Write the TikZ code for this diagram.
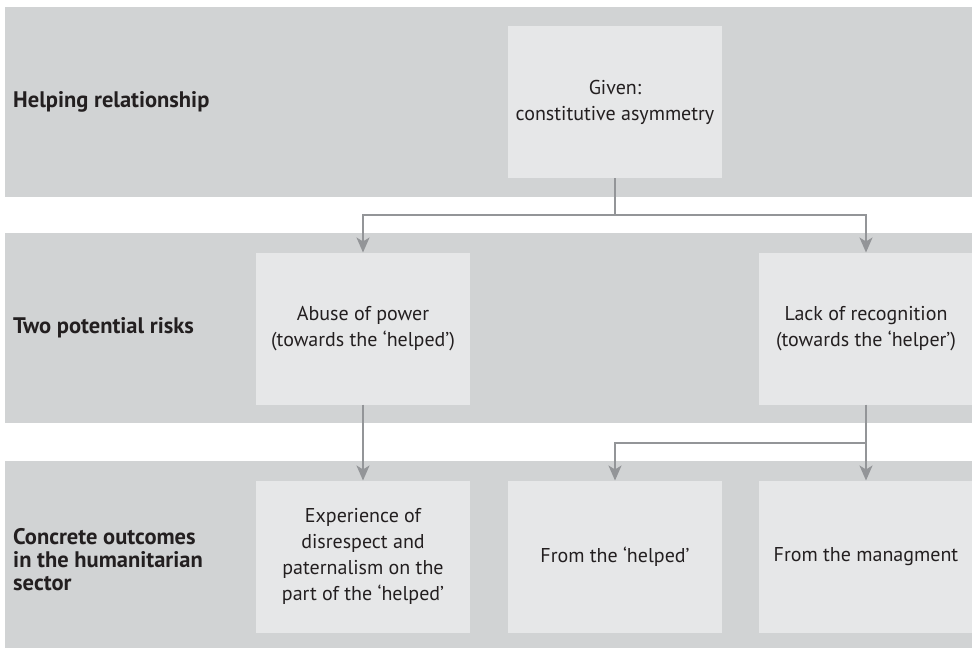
\documentclass[tikz,border=0pt]{standalone}
\usepackage{fontspec}
\setmainfont{PT Sans}
\usepackage{tikz}
\usetikzlibrary{arrows.meta,%
                positioning}
\definecolor{bandgray}{HTML}{D1D3D4}
\definecolor{boxgray}{HTML}{E6E7E8}
\definecolor{linegray}{HTML}{939598}
\definecolor{textdark}{HTML}{231F20}

\begin{document}
\begin{tikzpicture}[x = 1pt, y = -1pt, node distance = 38pt]
  \useasboundingbox (0,0) rectangle (972,648);
  \tikzset{BandStyle/.style  = {shape          = rectangle,
                                fill           = bandgray,
                                inner sep      = 0pt,
                                outer sep      = 0pt,
                                minimum width  = 967pt,
                                minimum height = 190pt,
                                anchor         = north west}}
  \tikzset{BoxStyle/.style   = {shape          = rectangle,
                                fill           = boxgray,
                                text           = textdark,
                                align          = center,
                                inner sep      = 0pt,
                                outer sep      = 0pt,
                                minimum width  = 214pt,
                                minimum height = 152pt,
                                font           = \fontsize{20}{26}\selectfont}}
  \tikzset{LabelStyle/.style = {text           = textdark,
                                align          = left,
                                inner sep      = 0pt,
                                anchor         = west,
                                font           = \fontsize{22.5}{23}\selectfont\bfseries}}
  \tikzset{EdgeStyle/.style  = {draw           = linegray,
                                line width     = 2pt,
                                -{Stealth[length = 15pt, width = 13pt, inset = 4pt]}}}
  % the three bands
     \node[BandStyle](relation) at (5,7){};
     \node[BandStyle](risks)    at (5,233){};
     \node[BandStyle](outcomes) at (5,461){};
     \node[LabelStyle,right= 8pt of relation.west](relationlabel){Helping relationship};
     \node[LabelStyle,right= 8pt of risks.west](riskslabel){Two potential risks};
     \node[LabelStyle,right= 8pt of outcomes.west,yshift=-4pt](outcomeslabel){Concrete outcomes\\in the humanitarian\\sector};
  % boxes
     \node[BoxStyle](given) at (615,102){Given:\\constitutive asymmetry};
     \node[BoxStyle](abuse) at (363,328.5){Abuse of power\\(towards the ‘helped’)};
     \node[BoxStyle,right= 289pt of abuse](lack){Lack of recognition\\(towards the ‘helper’)};
     \node[BoxStyle,below= 76pt of abuse](experience){Experience of\\disrespect and\\paternalism on the\\part of the ‘helped’};
     \node[BoxStyle,right=of experience](fromhelped){From the ‘helped’};
     \node[BoxStyle,right= 37pt of fromhelped](frommgmt){From the managment};
  % connectors
     \coordinate[below= 37pt of given](split);
     \coordinate[below= 38pt of lack](merge);
     \draw[EdgeStyle](given.south) -- (split) -| (abuse);
     \draw[EdgeStyle](split) -| (lack);
     \draw[EdgeStyle](abuse) -- (experience);
     \draw[EdgeStyle](lack.south) -- (merge) -| (fromhelped);
     \draw[EdgeStyle](merge) -- (frommgmt);
  \end{tikzpicture}
\end{document}
